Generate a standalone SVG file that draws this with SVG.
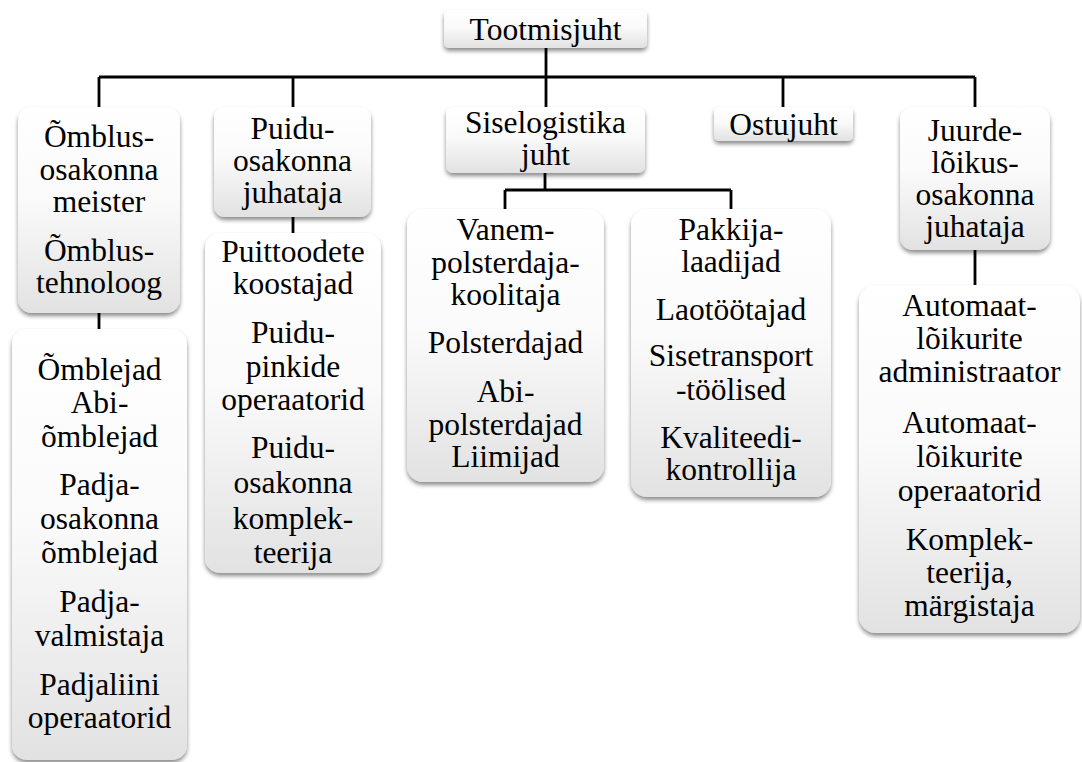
<svg xmlns="http://www.w3.org/2000/svg" width="1082" height="762" viewBox="0 0 1082 762">
<defs>
<linearGradient id="g" x1="0" y1="0" x2="0" y2="1">
<stop offset="0" stop-color="#ffffff"/>
<stop offset="0.45" stop-color="#fafafa"/>
<stop offset="1" stop-color="#e2e2e2"/>
</linearGradient>
<filter id="sh" x="-10%" y="-10%" width="120%" height="130%">
<feDropShadow dx="0" dy="3" stdDeviation="2.2" flood-color="#000" flood-opacity="0.45"/>
</filter>
</defs>
<style>
.box{fill:url(#g);filter:url(#sh);}
.t{font-family:Liberation Serif, Tinos, Times New Roman, Noto Serif, serif;font-size:31.5px;fill:#000;text-anchor:middle;}
.c{stroke:#000;stroke-width:2.8;fill:none;}
</style>
<rect width="1082" height="762" fill="#fff"/>
<g id="connectors">
<path class="c" d="M99 77H975"/>
<path class="c" d="M99 77V107M293 77V107M546 48V107M783 77V107M975 77V107"/>
<path class="c" d="M99 313V329M293 217V233M975 250V285"/>
<path class="c" d="M545 173V190M505 190H731M505 190V209M731 190V209"/>
</g>
<g id="n-tootmisjuht">
<rect class="box" x="444" y="10" width="203" height="38" rx="5"/>
<text class="t" x="545.5" y="40">Tootmisjuht</text>
</g>
<g id="n-omblus">
<rect class="box" x="18" y="107" width="162" height="206" rx="14"/>
<text class="t" x="99" y="147">Õmblus-</text>
<text class="t" x="99" y="180">osakonna</text>
<text class="t" x="99" y="212">meister</text>
<text class="t" x="99" y="261">Õmblus-</text>
<text class="t" x="99" y="293">tehnoloog</text>
</g>
<g id="n-puidu">
<rect class="box" x="214" y="107" width="157" height="110" rx="11"/>
<text class="t" x="292.5" y="139">Puidu-</text>
<text class="t" x="292.5" y="171">osakonna</text>
<text class="t" x="292.5" y="203">juhataja</text>
</g>
<g id="n-siselogistika">
<rect class="box" x="446" y="107" width="199" height="66" rx="7"/>
<text class="t" x="545.5" y="133">Siselogistika</text>
<text class="t" x="545.5" y="165">juht</text>
</g>
<g id="n-ostujuht">
<rect class="box" x="714" y="107" width="139" height="34" rx="5"/>
<text class="t" x="783.5" y="135">Ostujuht</text>
</g>
<g id="n-juurde">
<rect class="box" x="900" y="107" width="150" height="143" rx="13"/>
<text class="t" x="975" y="141">Juurde-</text>
<text class="t" x="975" y="173">lõikus-</text>
<text class="t" x="975" y="205">osakonna</text>
<text class="t" x="975" y="237">juhataja</text>
</g>
<g id="n-omblejad">
<rect class="box" x="12" y="329" width="175" height="431" rx="15"/>
<text class="t" x="99.5" y="380">Õmblejad</text>
<text class="t" x="99.5" y="413">Abi-</text>
<text class="t" x="99.5" y="447">õmblejad</text>
<text class="t" x="99.5" y="495">Padja-</text>
<text class="t" x="99.5" y="529">osakonna</text>
<text class="t" x="99.5" y="563">õmblejad</text>
<text class="t" x="99.5" y="612">Padja-</text>
<text class="t" x="99.5" y="646">valmistaja</text>
<text class="t" x="99.5" y="695">Padjaliini</text>
<text class="t" x="99.5" y="728">operaatorid</text>
</g>
<g id="n-puittoodete">
<rect class="box" x="205" y="233" width="176" height="340" rx="15"/>
<text class="t" x="293" y="262">Puittoodete</text>
<text class="t" x="293" y="294">koostajad</text>
<text class="t" x="293" y="343">Puidu-</text>
<text class="t" x="293" y="377">pinkide</text>
<text class="t" x="293" y="410">operaatorid</text>
<text class="t" x="293" y="458">Puidu-</text>
<text class="t" x="293" y="493">osakonna</text>
<text class="t" x="293" y="529">komplek-</text>
<text class="t" x="293" y="563">teerija</text>
</g>
<g id="n-vanem">
<rect class="box" x="407" y="209" width="197" height="273" rx="16"/>
<text class="t" x="505.5" y="240">Vanem-</text>
<text class="t" x="505.5" y="273">polsterdaja-</text>
<text class="t" x="505.5" y="305">koolitaja</text>
<text class="t" x="505.5" y="353">Polsterdajad</text>
<text class="t" x="505.5" y="402">Abi-</text>
<text class="t" x="505.5" y="435">polsterdajad</text>
<text class="t" x="505.5" y="467">Liimijad</text>
</g>
<g id="n-pakkija">
<rect class="box" x="631" y="209" width="200" height="288" rx="16"/>
<text class="t" x="731" y="240">Pakkija-</text>
<text class="t" x="731" y="272">laadijad</text>
<text class="t" x="731" y="320">Laotöötajad</text>
<text class="t" x="731" y="366">Sisetransport</text>
<text class="t" x="731" y="400">-töölised</text>
<text class="t" x="731" y="448">Kvaliteedi-</text>
<text class="t" x="731" y="480">kontrollija</text>
</g>
<g id="n-automaat">
<rect class="box" x="859" y="285" width="221" height="348" rx="17"/>
<text class="t" x="969.5" y="316">Automaat-</text>
<text class="t" x="969.5" y="349">lõikurite</text>
<text class="t" x="969.5" y="382">administraator</text>
<text class="t" x="969.5" y="433">Automaat-</text>
<text class="t" x="969.5" y="467">lõikurite</text>
<text class="t" x="969.5" y="501">operaatorid</text>
<text class="t" x="969.5" y="550">Komplek-</text>
<text class="t" x="969.5" y="583">teerija,</text>
<text class="t" x="969.5" y="616">märgistaja</text>
</g>
</svg>
